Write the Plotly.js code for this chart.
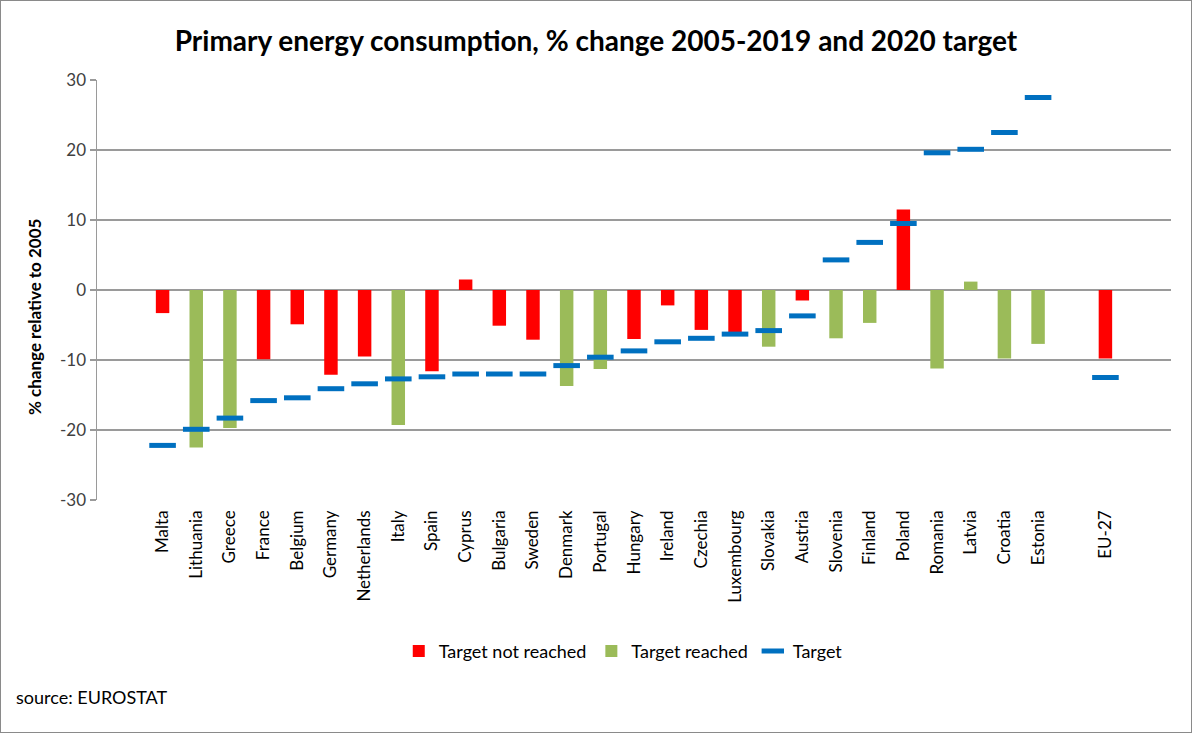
<!DOCTYPE html>
<html>
<head>
<meta charset="utf-8">
<script src="https://cdn.plot.ly/plotly-3.0.1.min.js"></script>
<style>
html,body{margin:0;padding:0;background:#fff;}
#frame{position:absolute;left:0;top:0;width:1192px;height:733px;box-sizing:border-box;border:1px solid #8a8a8a;}
#chart{position:absolute;left:0;top:0;width:1190px;height:731px;}
</style>
</head>
<body>
<div id="frame"><div id="chart"></div></div>
<script>
var countries = ["Malta","Lithuania","Greece","France","Belgium","Germany","Netherlands","Italy","Spain","Cyprus","Bulgaria","Sweden","Denmark","Portugal","Hungary","Ireland","Czechia","Luxembourg","Slovakia","Austria","Slovenia","Finland","Poland","Romania","Latvia","Croatia","Estonia"," ","EU-27"];
var notReached = [-3.3,null,null,-9.9,-4.9,-12.1,-9.5,null,-11.6,1.5,-5.1,-7.1,null,null,-7.0,-2.2,-5.7,-6.0,null,-1.5,null,null,11.5,null,null,null,null,null,-9.8];
var reached = [null,-22.5,-19.7,null,null,null,null,-19.3,null,null,null,null,-13.7,-11.3,null,null,null,null,-8.1,null,-6.9,-4.7,null,-11.2,1.2,-9.8,-7.7,null,null];
var target = [-22.2,-19.9,-18.3,-15.8,-15.4,-14.1,-13.4,-12.7,-12.4,-12.0,-12.0,-12.0,-10.8,-9.6,-8.7,-7.4,-6.9,-6.3,-5.8,-3.7,4.3,6.8,9.5,19.6,20.1,22.5,27.5,null,-12.5];
var yTickVals = [-30,-20,-10,0,10,20,30];
var yTickText = ["-30","-20","-10","0","10","20","30"];

var FONT = "Lato, 'Open Sans', sans-serif";
var traces = [
  {type:"bar", name:"Target not reached", x:countries, y:notReached, marker:{color:"#FF0000"}, width:0.4},
  {type:"bar", name:"Target reached", x:countries, y:reached, marker:{color:"#9BBB59"}, width:0.4},
  {type:"scatter", mode:"markers", name:"Target", x:countries, y:target,
   marker:{symbol:"line-ew", size:19, color:"#0070C0", line:{width:5, color:"#0070C0"}}}
];
var layout = {
  width:1190, height:731,
  paper_bgcolor:"#fff", plot_bgcolor:"#fff",
  margin:{l:96, r:20, t:79, b:232},
  barmode:"overlay",
  font:{family:FONT, color:"#000"},
  title:{text:"<b>Primary energy consumption, % change 2005-2019 and 2020 target</b>", x:0.5, xanchor:"center", y:0.945, yanchor:"middle", font:{size:28, family:FONT, color:"#000"}},
  xaxis:{type:"category", tickangle:-90, tickfont:{size:17, family:FONT, color:"#000"}, showgrid:false, showline:false, ticks:"", zeroline:false, automargin:false, ticklabelstandoff:6},
  yaxis:{range:[-30,30], tickmode:"array", tickvals:yTickVals, ticktext:yTickText, tickfont:{size:17, family:FONT, color:"#404040"}, showgrid:true, gridcolor:"#9a9a9a", gridwidth:1.5,
         zeroline:true, zerolinecolor:"#9a9a9a", zerolinewidth:1.5, showline:true, linecolor:"#9a9a9a", linewidth:1.5,
         ticks:"outside", ticklen:6, tickcolor:"#9a9a9a", tickwidth:1.5, automargin:false},
  legend:{orientation:"h", x:0.49, xanchor:"center", y:-0.36, yanchor:"middle", font:{size:18, family:FONT, color:"#000"}, traceorder:"normal", itemwidth:30},
  showlegend:true,
  annotations:[
    {text:"<b>% change relative to 2005</b>", xref:"paper", yref:"paper", x:-0.058, xanchor:"center", y:0.435, yanchor:"middle", textangle:-90, showarrow:false, font:{size:17, family:FONT, color:"#000"}},
    {text:"source: EUROSTAT", xref:"paper", yref:"paper", x:-0.077, xanchor:"left", y:-0.468, yanchor:"middle", showarrow:false, font:{size:18, family:FONT, color:"#000"}}
  ]
};
Plotly.newPlot("chart", traces, layout, {displayModeBar:false, staticPlot:true});
</script>
</body>
</html>
